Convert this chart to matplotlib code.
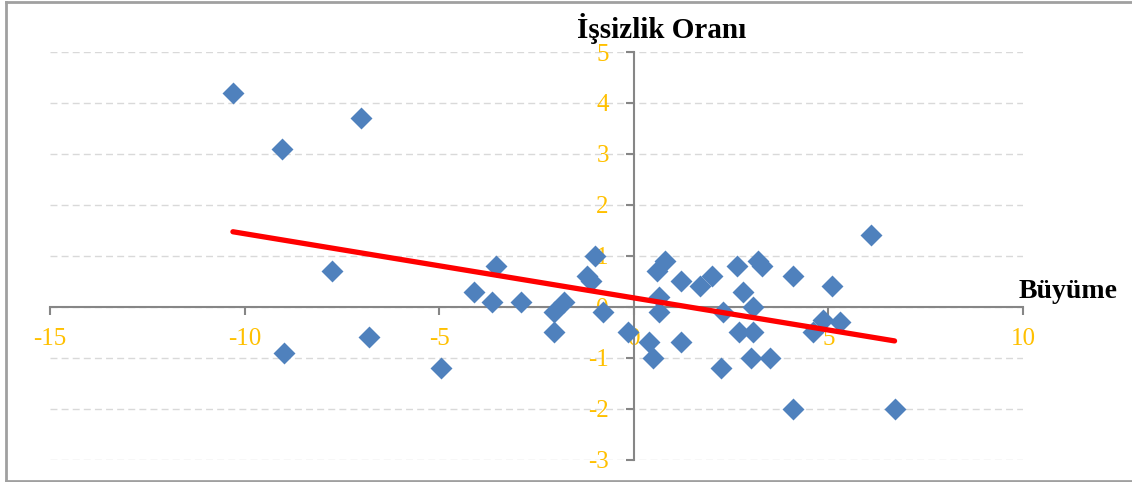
"""Scatter of growth vs. unemployment change with linear trend."""

import matplotlib

matplotlib.use("Agg")
import matplotlib.pyplot as plt
import numpy as np

# Büyüme (x) and İşsizlik Oranı (y) values
growth = [
    -10.3, -9.05, -7.0, -7.75, -9.0, -6.8, -4.95, -4.1, -3.55, -3.65,
    -2.9, -2.05, -1.8, -2.05, -1.2, -1.1, -1.0, -0.8, -0.15, 0.4,
    0.5, 0.6, 0.8, 0.65, 0.65, 1.2, 1.2, 1.7, 2.0, 2.3,
    2.25, 2.65, 2.8, 2.7, 3.0, 3.05, 3.05, 3.2, 3.3, 3.5,
    4.1, 4.1, 4.6, 4.85, 5.1, 5.3, 6.1, 6.7,
]
unemployment = [
    4.2, 3.1, 3.7, 0.7, -0.9, -0.6, -1.2, 0.3, 0.8, 0.1,
    0.1, -0.1, 0.1, -0.5, 0.6, 0.5, 1.0, -0.1, -0.5, -0.7,
    -1.0, 0.7, 0.9, 0.2, -0.1, 0.5, -0.7, 0.4, 0.6, -0.1,
    -1.2, 0.8, 0.3, -0.5, -1.0, 0.0, -0.5, 0.9, 0.8, -1.0,
    0.6, -2.0, -0.5, -0.25, 0.4, -0.3, 1.4, -2.0,
]
# trend line
trend_slope = -0.126
trend_intercept = 0.175

x_ticks = [-15, -10, -5, 0, 5, 10]
y_ticks = [-3, -2, -1, 0, 1, 2, 3, 4, 5]

TICK_COLOR = "#FFC000"
AXIS_COLOR = "#868686"


def main() -> None:
    plt.rcParams["font.family"] = ["Liberation Serif", "DejaVu Serif"]
    plt.rcParams["axes.unicode_minus"] = False
    fig = plt.figure(figsize=(11.32, 4.82), dpi=100)
    ax = fig.add_axes([50 / 1132, 22.3 / 482, 973 / 1132, 407.7 / 482])

    for y in y_ticks:
        ax.axhline(y, color="#D9D9D9", linewidth=1.0, linestyle=(0, (5, 3)), zorder=0)

    ax.scatter(growth, unemployment, marker="D", s=125, color="#4F81BD",
               linewidths=0, zorder=3)

    gx = np.array([min(growth), max(growth)])
    ax.plot(gx, trend_slope * gx + trend_intercept, color="#FF0000",
            linewidth=3.8, solid_capstyle="round", zorder=4)

    ax.set_xlim(-15, 10)
    ax.set_ylim(-3, 5)
    ax.set_xticks(x_ticks)
    ax.set_yticks(y_ticks)
    ax.spines["left"].set_position(("data", 0))
    ax.spines["bottom"].set_position(("data", 0))
    ax.spines["top"].set_visible(False)
    ax.spines["right"].set_visible(False)
    for side in ("left", "bottom"):
        ax.spines[side].set_color(AXIS_COLOR)
        ax.spines[side].set_linewidth(1.5)
    ax.tick_params(axis="both", direction="out", length=6, width=1.5,
                   color=AXIS_COLOR, labelcolor=TICK_COLOR, labelsize=18)
    ax.tick_params(axis="x", pad=9)
    ax.tick_params(axis="y", pad=12)
    ax.set_facecolor("none")

    fig.text(662 / 1132, 1 - 28 / 482, "İşsizlik Oranı", ha="center", va="center",
             fontsize=21, fontweight="bold")
    fig.text(1068 / 1132, 1 - 292 / 482, "Büyüme", ha="center", va="center",
             fontsize=20, fontweight="bold")

    # outer chart border
    border = dict(color="#A0A0A0", linewidth=2, transform=fig.transFigure)
    fig.add_artist(plt.Line2D([6 / 1132, 6 / 1132], [0.5 / 482, 1 - 1.5 / 482], **border))
    fig.add_artist(plt.Line2D([6 / 1132, 1], [1 - 1.5 / 482, 1 - 1.5 / 482], **border))
    fig.add_artist(plt.Line2D([6 / 1132, 1], [1 / 482, 1 / 482], **border))

    fig.savefig("out.png", dpi=100)
    plt.close(fig)


if __name__ == "__main__":
    main()
